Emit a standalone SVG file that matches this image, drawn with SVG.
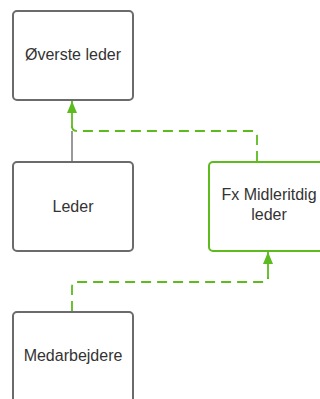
<svg xmlns="http://www.w3.org/2000/svg" width="320" height="399" viewBox="0 0 320 399">
<style>
.box{fill:#fff;stroke:#6b6b6b;stroke-width:2}
.gbox{fill:#fff;stroke:#5dbb1e;stroke-width:2}
.t{font-family:"Liberation Sans",Arial,sans-serif;font-size:16px;fill:#333;text-anchor:middle}
.g{fill:none;stroke:#5dbb1e;stroke-width:1.8;stroke-dasharray:10,6}
.s{fill:none;stroke:#555;stroke-width:1.2}
</style>
<defs>
<marker id="ah" viewBox="0 0 12 10" refX="12" refY="5" markerWidth="12" markerHeight="10" markerUnits="userSpaceOnUse" orient="auto">
<path d="M0,0 L12,5 L0,10 z" fill="#5dbb1e"/>
</marker>
</defs>
<g id="connectors">
<path class="s" d="M72,161 V131"/>
<path class="g" d="M257,161 V136 Q257,131 252,131 H77 Q72,131 72,126"/>
<path d="M72,128 V101" fill="none" stroke="#5dbb1e" stroke-width="1.8" marker-end="url(#ah)"/>
<path class="g" d="M72,311 V287 Q72,282 77,282 H263 Q268,282 268,277"/>
<path d="M268,279 V252" fill="none" stroke="#5dbb1e" stroke-width="1.8" marker-end="url(#ah)"/>
</g>
<g id="n1"><rect class="box" x="13" y="11" width="120" height="89" rx="4"/><text class="t" x="73" y="60">Øverste leder</text></g>
<g id="n2"><rect class="box" x="13" y="162" width="120" height="89" rx="4"/><text class="t" x="73" y="212">Leder</text></g>
<g id="n3"><rect class="gbox" x="209" y="162" width="120" height="89" rx="4"/><text class="t" x="269" y="200">Fx Midleritdig</text><text class="t" x="269" y="220">leder</text></g>
<g id="n4"><rect class="box" x="13" y="312" width="120" height="100" rx="4"/><text class="t" x="73" y="361">Medarbejdere</text></g>
</svg>
